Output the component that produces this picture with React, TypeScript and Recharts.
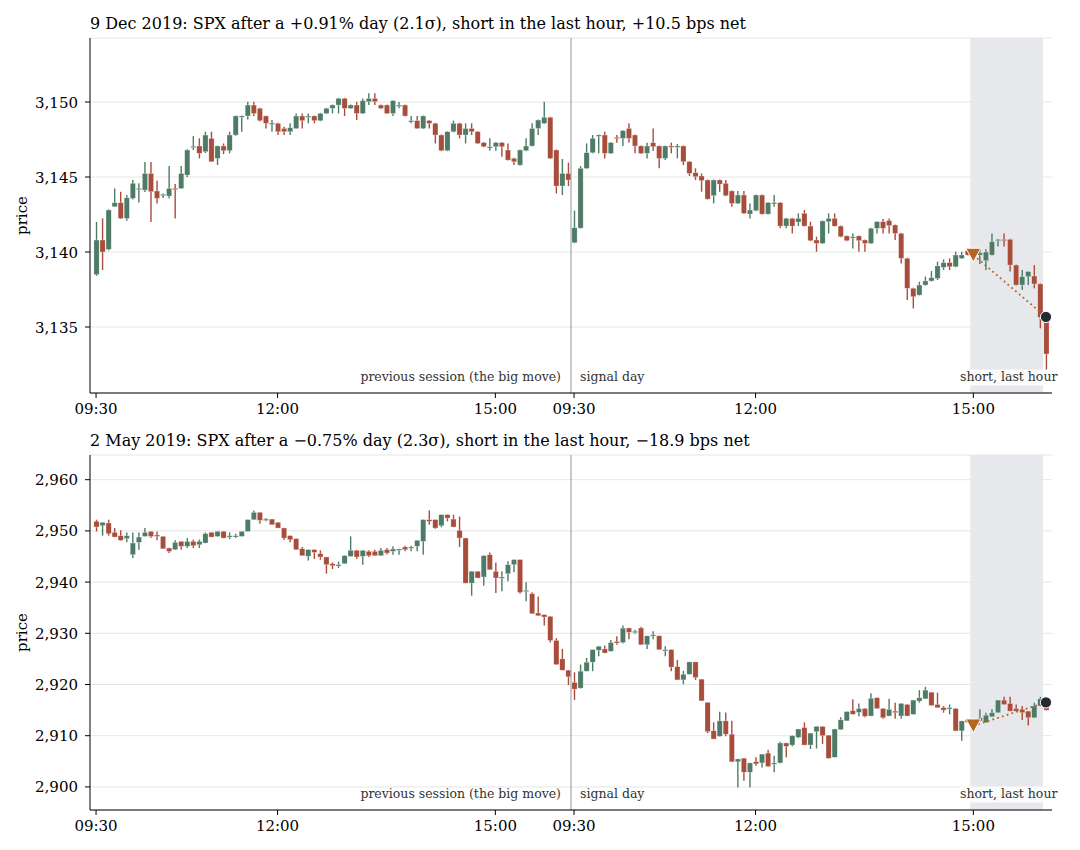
import {
  ComposedChart,
  Bar,
  Scatter,
  XAxis,
  YAxis,
  CartesianGrid,
  ReferenceArea,
  ReferenceLine,
} from "recharts";

const SERIF = '"DejaVu Serif", serif';
const UP = "#4e7b66";
const DOWN = "#a84c3b";
const TRADE = "#b5651d";
const EXIT_DOT = "#25282c";

// 5-minute bars: previous session (0..78) and signal day (79..157)
const TICK_IDX = [0, 30, 66, 79, 109, 145];
const TICK_LABELS = ["09:30", "12:00", "15:00", "09:30", "12:00", "15:00"];
const TRADE_IDX = [145, 157];

// ---- 9 Dec 2019 ----
const DEC_OPEN = [
  3138.5, 3140.8, 3140.18, 3143.02, 3143.29, 3142.24, 3143.58, 3144.2, 3144.13, 3145.24,
  3144.07, 3143.8, 3143.73, 3144.25, 3144.24, 3145.13, 3147.0, 3147.07, 3146.69, 3147.58,
  3146.24, 3147.07, 3146.76, 3147.8, 3149.05, 3149.07, 3149.8, 3149.58, 3149.07, 3148.55,
  3148.58, 3148.24, 3148.02, 3148.24, 3149.07, 3149.0, 3149.07, 3148.76, 3149.24, 3149.58,
  3149.8, 3150.24, 3149.58, 3149.8, 3149.24, 3150.02, 3150.24, 3149.8, 3149.8, 3149.24,
  3149.78, 3149.8, 3148.74, 3148.76, 3148.24, 3148.76, 3148.58, 3147.8, 3146.76, 3148.02,
  3148.58, 3147.8, 3148.24, 3148.02, 3147.29, 3147.0, 3147.02, 3147.29, 3146.8, 3146.24,
  3145.8, 3146.76, 3147.07, 3148.24, 3148.58, 3148.98, 3146.8, 3144.4, 3145.24, 3140.62,
  3141.6, 3145.58, 3146.62, 3147.78, 3147.8, 3146.58, 3147.65, 3147.58, 3148.24, 3147.8,
  3147.07, 3146.58, 3147.29, 3147.07, 3146.24, 3147.07, 3147.05, 3147.07, 3146.02, 3145.29,
  3145.07, 3144.8, 3143.76, 3144.8, 3144.58, 3144.07, 3143.24, 3143.8, 3142.53, 3142.76,
  3143.8, 3142.53, 3143.25, 3143.29, 3141.73, 3142.24, 3142.0, 3142.58, 3141.73, 3140.8,
  3140.58, 3142.02, 3142.24, 3141.73, 3141.07, 3141.0, 3141.07, 3140.8, 3140.58, 3141.58,
  3142.02, 3142.1, 3141.8, 3141.24, 3139.58, 3137.58, 3137.13, 3137.8, 3138.07, 3138.24,
  3138.98, 3139.29, 3139.02, 3139.58, 3140.09, 3139.85, 3139.8, 3139.42, 3139.8, 3140.82,
  3140.84, 3140.84, 3139.13, 3137.8, 3138.36, 3138.4, 3137.87, 3135.36,
];
const DEC_HIGH = [
  3142.0, 3142.24, 3142.85, 3144.24, 3144.02, 3143.8, 3144.8, 3144.58, 3146.0, 3146.0,
  3144.76, 3143.9, 3145.73, 3144.53, 3145.73, 3146.85, 3147.73, 3147.58, 3148.02, 3148.02,
  3147.1, 3147.24, 3148.02, 3149.1, 3149.1, 3150.02, 3150.02, 3149.62, 3149.1, 3148.8,
  3148.62, 3148.36, 3148.58, 3149.24, 3149.24, 3149.24, 3149.1, 3149.28, 3149.62, 3149.84,
  3150.28, 3150.28, 3149.84, 3150.02, 3150.24, 3150.58, 3150.58, 3149.84, 3149.84, 3150.12,
  3150.0, 3149.84, 3149.07, 3149.07, 3149.1, 3148.8, 3148.62, 3147.84, 3148.05, 3148.76,
  3148.62, 3148.58, 3148.58, 3148.06, 3147.33, 3147.58, 3147.33, 3147.33, 3147.24, 3146.28,
  3146.84, 3147.58, 3148.58, 3148.84, 3150.02, 3149.02, 3146.84, 3146.2, 3145.96, 3142.76,
  3145.73, 3147.24, 3147.8, 3147.84, 3148.02, 3147.33, 3147.8, 3148.12, 3148.58, 3147.84,
  3147.1, 3147.29, 3148.24, 3147.1, 3147.1, 3147.29, 3147.2, 3147.1, 3146.06, 3145.58,
  3145.24, 3144.84, 3144.84, 3144.84, 3144.8, 3144.1, 3144.07, 3144.07, 3143.24, 3143.84,
  3143.84, 3143.33, 3143.8, 3143.33, 3142.28, 3142.28, 3142.58, 3142.8, 3142.02, 3141.02,
  3142.1, 3142.58, 3142.58, 3141.77, 3141.1, 3141.24, 3141.1, 3140.84, 3141.62, 3142.05,
  3142.2, 3142.24, 3141.84, 3141.28, 3139.62, 3137.62, 3138.02, 3138.36, 3138.73, 3139.36,
  3139.51, 3139.58, 3140.02, 3140.02, 3140.24, 3140.1, 3140.2, 3140.18, 3141.24, 3140.86,
  3141.24, 3140.88, 3139.17, 3138.8, 3138.72, 3139.13, 3137.91, 3135.7,
];
const DEC_LOW = [
  3138.4, 3138.8, 3140.1, 3143.0, 3142.2, 3142.09, 3143.5, 3143.3, 3144.0, 3142.0,
  3143.24, 3143.6, 3143.58, 3142.24, 3144.2, 3145.0, 3146.8, 3146.24, 3146.6, 3146.0,
  3145.8, 3146.53, 3146.58, 3147.75, 3148.02, 3148.84, 3149.07, 3148.7, 3148.24, 3148.02,
  3147.8, 3147.8, 3147.8, 3148.2, 3148.24, 3148.58, 3148.58, 3148.72, 3149.2, 3149.24,
  3149.24, 3149.07, 3149.54, 3148.8, 3149.2, 3149.8, 3149.8, 3149.54, 3149.2, 3149.07,
  3149.58, 3149.03, 3148.58, 3148.2, 3148.2, 3148.24, 3147.24, 3146.72, 3146.72, 3147.98,
  3147.58, 3147.24, 3147.8, 3147.2, 3146.98, 3146.76, 3146.76, 3146.36, 3146.1, 3145.8,
  3145.76, 3146.72, 3147.03, 3147.8, 3148.54, 3146.2, 3143.9, 3143.8, 3144.4, 3140.58,
  3141.56, 3145.54, 3146.58, 3146.58, 3146.24, 3146.54, 3147.29, 3147.07, 3147.29, 3146.58,
  3146.54, 3146.24, 3146.76, 3145.58, 3146.13, 3146.58, 3146.24, 3145.8, 3145.07, 3144.8,
  3144.02, 3143.5, 3143.24, 3144.02, 3143.72, 3143.02, 3143.2, 3142.54, 3142.24, 3142.72,
  3142.5, 3142.5, 3143.02, 3141.58, 3141.58, 3141.24, 3141.73, 3141.7, 3140.72, 3140.02,
  3140.54, 3141.24, 3141.7, 3140.98, 3140.72, 3140.24, 3140.02, 3140.02, 3140.54, 3141.24,
  3141.24, 3141.24, 3140.8, 3139.24, 3136.8, 3136.24, 3137.1, 3137.76, 3138.03, 3138.13,
  3138.8, 3138.8, 3138.98, 3139.54, 3139.76, 3139.6, 3139.2, 3138.8, 3139.76, 3140.36,
  3140.36, 3138.7, 3137.76, 3137.47, 3137.8, 3137.58, 3134.91, 3132.16,
];
const DEC_CLOSE = [
  3140.8, 3140.0, 3142.8, 3143.29, 3142.24, 3143.62, 3144.58, 3144.25, 3145.24, 3144.02,
  3143.58, 3143.85, 3144.24, 3144.2, 3145.24, 3146.8, 3147.05, 3146.58, 3147.8, 3146.02,
  3147.07, 3146.76, 3147.8, 3149.07, 3149.07, 3149.8, 3149.24, 3148.76, 3148.58, 3148.6,
  3148.02, 3148.02, 3148.29, 3149.07, 3148.76, 3149.07, 3148.76, 3149.24, 3149.58, 3149.8,
  3150.24, 3149.58, 3149.8, 3149.24, 3150.09, 3150.24, 3150.02, 3149.58, 3149.24, 3150.09,
  3149.8, 3149.07, 3148.76, 3148.24, 3149.07, 3148.58, 3147.8, 3146.76, 3148.02, 3148.58,
  3147.8, 3148.24, 3148.02, 3147.24, 3147.02, 3147.02, 3147.29, 3147.02, 3146.13, 3146.02,
  3146.8, 3147.07, 3148.24, 3148.8, 3148.98, 3146.24, 3144.4, 3145.24, 3144.8, 3141.62,
  3145.58, 3146.62, 3147.58, 3147.8, 3146.58, 3147.29, 3147.6, 3148.09, 3147.58, 3147.07,
  3146.58, 3147.07, 3147.02, 3146.24, 3147.07, 3147.02, 3147.07, 3146.02, 3145.24, 3145.02,
  3144.76, 3143.53, 3144.8, 3144.53, 3143.76, 3143.24, 3143.8, 3142.58, 3142.8, 3143.8,
  3142.53, 3143.29, 3143.29, 3141.73, 3142.24, 3141.73, 3142.24, 3141.73, 3140.76, 3140.58,
  3142.07, 3142.24, 3141.73, 3141.02, 3140.76, 3141.02, 3140.76, 3140.58, 3141.58, 3142.02,
  3141.58, 3141.76, 3141.24, 3139.58, 3137.58, 3137.02, 3137.8, 3138.07, 3138.29, 3139.07,
  3139.29, 3139.02, 3139.8, 3139.8, 3139.8, 3139.9, 3139.95, 3140.0, 3140.69, 3140.84,
  3140.8, 3139.13, 3137.8, 3138.36, 3138.69, 3137.87, 3135.64, 3133.2,
];
const DEC_TRADE_PRICE = [3139.8, 3135.67];
const DEC_Y_TICKS = [3135, 3140, 3145, 3150];
const DEC_Y_DOMAIN = [3130.6, 3154.27];

// ---- 2 May 2019 ----
const MAY_OPEN = [
  2951.86, 2951.02, 2951.54, 2949.71, 2949.06, 2948.5, 2945.35, 2947.76, 2948.93, 2949.9,
  2949.2, 2948.93, 2946.65, 2946.33, 2947.95, 2946.98, 2947.95, 2947.3, 2947.63, 2949.71,
  2948.93, 2949.9, 2949.0, 2949.0, 2948.93, 2949.9, 2952.19, 2953.62, 2952.28, 2952.3,
  2951.67, 2950.56, 2949.06, 2948.47, 2946.52, 2945.03, 2946.33, 2945.55, 2944.9, 2943.6,
  2943.35, 2943.6, 2945.03, 2946.2, 2945.03, 2946.0, 2946.0, 2945.16, 2946.33, 2946.0,
  2946.44, 2946.85, 2946.8, 2947.0, 2947.95, 2952.19, 2952.19, 2951.0, 2953.16, 2952.3,
  2950.1, 2948.6, 2939.8, 2942.1, 2941.0, 2945.35, 2942.1, 2940.95, 2941.64, 2943.4,
  2944.38, 2938.2, 2937.73, 2933.96, 2933.63, 2933.3, 2928.6, 2925.0, 2922.8, 2920.4,
  2919.3, 2922.6, 2924.35, 2926.7, 2926.95, 2926.5, 2928.4, 2928.2, 2931.03, 2930.35,
  2931.03, 2927.77, 2929.65, 2929.5, 2926.75, 2926.8, 2923.5, 2920.9, 2922.0, 2924.4,
  2921.04, 2916.5, 2910.97, 2909.9, 2912.9, 2910.3, 2904.9, 2905.6, 2902.86, 2904.94,
  2904.68, 2906.6, 2904.5, 2904.68, 2908.57, 2908.18, 2909.7, 2911.6, 2908.18, 2910.8,
  2911.8, 2910.1, 2905.8, 2911.2, 2912.9, 2914.9, 2914.55, 2915.3, 2913.85, 2917.4,
  2915.3, 2913.85, 2914.8, 2913.85, 2916.1, 2914.17, 2916.76, 2917.2, 2918.5, 2916.1,
  2915.47, 2915.4, 2915.3, 2910.94, 2913.2, 2912.5, 2912.88, 2912.56, 2913.7, 2914.5,
  2916.95, 2916.3, 2915.3, 2915.15, 2914.8, 2913.5, 2915.8, 2916.6,
];
const MAY_HIGH = [
  2952.19, 2951.7, 2952.19, 2950.56, 2950.1, 2949.7, 2949.7, 2949.7, 2950.56, 2949.94,
  2949.9, 2948.97, 2946.69, 2948.15, 2947.99, 2948.6, 2948.3, 2948.3, 2949.71, 2949.75,
  2949.94, 2949.94, 2949.71, 2949.45, 2949.94, 2952.23, 2954.0, 2953.66, 2952.5, 2952.34,
  2951.71, 2950.6, 2949.1, 2948.51, 2946.85, 2946.37, 2946.37, 2946.2, 2944.94, 2943.85,
  2944.0, 2945.2, 2948.93, 2946.24, 2946.24, 2946.2, 2946.33, 2946.65, 2946.65, 2946.98,
  2946.5, 2947.1, 2947.1, 2948.19, 2952.23, 2954.0, 2952.23, 2953.2, 2953.2, 2953.16,
  2952.8, 2948.64, 2942.14, 2942.14, 2945.2, 2945.8, 2943.85, 2942.1, 2944.05, 2944.42,
  2944.42, 2939.95, 2938.0, 2937.21, 2933.67, 2933.34, 2929.04, 2926.95, 2922.84, 2922.4,
  2923.9, 2925.2, 2926.84, 2927.5, 2927.6, 2928.7, 2929.4, 2931.5, 2931.07, 2930.7,
  2931.3, 2929.54, 2930.4, 2929.54, 2927.47, 2926.84, 2924.8, 2922.66, 2924.44, 2924.44,
  2921.08, 2916.54, 2912.6, 2914.7, 2914.55, 2912.9, 2905.49, 2905.64, 2904.72, 2905.8,
  2906.44, 2907.27, 2906.1, 2908.83, 2908.61, 2910.04, 2911.34, 2912.6, 2910.54, 2911.84,
  2911.84, 2910.14, 2911.34, 2913.6, 2914.74, 2917.1, 2916.3, 2915.34, 2918.3, 2917.44,
  2915.34, 2917.2, 2916.44, 2916.34, 2916.14, 2916.99, 2918.9, 2919.55, 2918.54, 2918.4,
  2915.8, 2916.1, 2915.34, 2912.92, 2913.3, 2912.9, 2915.15, 2914.5, 2915.15, 2916.99,
  2917.6, 2917.6, 2916.1, 2915.8, 2914.84, 2916.44, 2917.6, 2916.9,
];
const MAY_LOW = [
  2949.9, 2949.06, 2949.06, 2948.76, 2948.1, 2947.76, 2944.7, 2946.33, 2948.9, 2948.6,
  2948.15, 2946.48, 2945.68, 2946.29, 2946.33, 2946.65, 2946.65, 2946.65, 2947.59, 2948.76,
  2948.89, 2948.56, 2948.4, 2948.6, 2948.89, 2949.86, 2952.15, 2951.4, 2951.86, 2951.16,
  2950.52, 2948.2, 2947.76, 2946.29, 2945.12, 2944.24, 2944.5, 2944.37, 2941.64, 2942.55,
  2942.75, 2943.56, 2944.99, 2944.5, 2943.4, 2944.9, 2945.12, 2945.12, 2945.4, 2945.35,
  2945.35, 2946.0, 2946.0, 2946.0, 2945.35, 2951.2, 2950.4, 2950.7, 2951.86, 2950.72,
  2946.85, 2939.76, 2937.34, 2940.76, 2939.3, 2942.38, 2937.86, 2938.2, 2940.14, 2941.9,
  2937.73, 2936.24, 2933.79, 2933.4, 2931.5, 2928.2, 2923.86, 2922.76, 2919.9, 2917.0,
  2919.2, 2922.56, 2922.6, 2925.5, 2926.11, 2926.46, 2927.77, 2928.0, 2928.85, 2929.9,
  2927.73, 2926.95, 2928.85, 2926.76, 2925.5, 2922.6, 2920.86, 2920.06, 2921.96, 2920.9,
  2916.76, 2910.5, 2909.31, 2909.86, 2909.9, 2904.86, 2899.9, 2901.2, 2899.9, 2904.15,
  2903.8, 2903.96, 2902.86, 2904.64, 2905.8, 2907.92, 2909.48, 2908.14, 2907.4, 2907.5,
  2908.4, 2905.56, 2905.76, 2911.16, 2912.86, 2914.16, 2913.8, 2913.6, 2913.81, 2915.26,
  2913.3, 2913.81, 2913.33, 2913.33, 2913.81, 2914.13, 2916.44, 2917.16, 2915.86, 2915.43,
  2914.5, 2914.17, 2910.9, 2909.0, 2912.5, 2912.0, 2912.84, 2912.52, 2913.66, 2914.46,
  2916.06, 2914.76, 2914.76, 2913.07, 2912.0, 2913.46, 2915.76, 2914.9,
];
const MAY_CLOSE = [
  2950.76, 2951.67, 2949.45, 2948.8, 2948.15, 2949.06, 2947.63, 2948.8, 2949.71, 2948.93,
  2948.93, 2946.52, 2946.0, 2947.76, 2946.98, 2947.95, 2947.1, 2947.95, 2949.45, 2948.8,
  2949.9, 2948.6, 2949.06, 2949.06, 2949.9, 2952.19, 2953.62, 2952.06, 2952.3, 2951.2,
  2950.56, 2948.6, 2948.28, 2946.33, 2945.16, 2946.33, 2945.8, 2944.9, 2943.4, 2943.2,
  2943.4, 2945.16, 2946.2, 2944.9, 2946.2, 2945.16, 2945.16, 2946.2, 2945.68, 2946.46,
  2946.46, 2946.33, 2946.85, 2948.15, 2952.19, 2951.86, 2950.56, 2953.16, 2952.5, 2950.76,
  2948.6, 2939.8, 2942.1, 2940.8, 2945.16, 2942.42, 2940.8, 2941.0, 2943.4, 2944.38,
  2938.0, 2938.4, 2933.83, 2933.44, 2933.18, 2928.6, 2923.9, 2922.8, 2921.5, 2919.1,
  2922.6, 2924.35, 2926.8, 2927.47, 2926.15, 2928.2, 2928.1, 2931.0, 2930.2, 2930.4,
  2927.77, 2929.5, 2929.7, 2926.8, 2926.8, 2923.4, 2920.9, 2922.0, 2924.4, 2921.36,
  2916.8, 2910.8, 2909.35, 2912.9, 2910.3, 2904.9, 2905.45, 2902.86, 2904.68, 2904.5,
  2906.4, 2904.0, 2904.68, 2908.57, 2907.92, 2910.0, 2911.3, 2908.18, 2910.5, 2911.8,
  2910.0, 2905.6, 2911.3, 2913.1, 2914.7, 2914.2, 2915.3, 2913.8, 2917.3, 2915.3,
  2913.5, 2915.15, 2914.5, 2916.3, 2913.85, 2916.95, 2917.4, 2918.9, 2915.9, 2915.47,
  2915.0, 2915.47, 2910.94, 2912.88, 2912.6, 2912.55, 2913.5, 2914.0, 2914.5, 2916.95,
  2916.1, 2914.8, 2914.8, 2914.5, 2913.5, 2915.8, 2917.2, 2915.0,
];
const MAY_TRADE_PRICE = [2911.95, 2916.5];
const MAY_Y_TICKS = [2900, 2910, 2920, 2930, 2940, 2950, 2960];
const MAY_Y_DOMAIN = [2895.49, 2964.82];

function buildRows(o: number[], h: number[], l: number[], c: number[]) {
  return o.map((v, i) => ({ i, o: v, h: h[i], l: l[i], c: c[i] }));
}

function buildTrade(prices: number[]) {
  return prices.map((p, k) => ({ i: TRADE_IDX[k], p, kind: k === 0 ? "entry" : "exit" }));
}

function Candle(props: any) {
  const { x, y, width, height, payload } = props;
  if (!payload || !Number.isFinite(y) || !Number.isFinite(height)) return null;
  const { o, h, l, c } = payload;
  const cx = x + width / 2;
  const span = h - l || 1;
  const py = (v: number) => y + ((h - v) / span) * height;
  const top = py(Math.max(o, c));
  const bot = py(Math.min(o, c));
  const color = c >= o ? UP : DOWN;
  const bw = 5.2;
  return (
    <g>
      <line x1={cx} x2={cx} y1={y} y2={y + height} stroke={color} strokeWidth={1.4} />
      <rect
        x={cx - bw / 2}
        y={top}
        width={bw}
        height={Math.max(bot - top, 1.3)}
        fill={color}
        stroke="#fff"
        strokeOpacity={0.55}
        strokeWidth={0.5}
      />
    </g>
  );
}

function TradeMark(props: any) {
  const { cx, cy, payload } = props;
  if (!Number.isFinite(cx) || !Number.isFinite(cy)) return null;
  if (payload.kind === "entry") {
    return (
      <path
        d={`M${cx - 7.5},${cy - 6.8} L${cx + 7.5},${cy - 6.8} L${cx},${cy + 7} Z`}
        fill={TRADE}
        stroke="#fff"
        strokeWidth={1}
      />
    );
  }
  return <circle cx={cx} cy={cy} r={5.6} fill={EXIT_DOT} stroke="#fff" strokeWidth={1} />;
}

const annoStyle = { fontFamily: SERIF, fontSize: 12.5, fill: "#333" };

function SessionLabels(props: any) {
  const vb = props.viewBox;
  if (!vb) return null;
  const base = vb.y + vb.height - 12;
  return (
    <g>
      <text x={vb.x - 10} y={base} textAnchor="end" style={annoStyle}>
        previous session (the big move)
      </text>
      <text x={vb.x + 9} y={base} textAnchor="start" style={annoStyle}>
        signal day
      </text>
    </g>
  );
}

function LastHourLabel(props: any) {
  const vb = props.viewBox;
  if (!vb) return null;
  const right = vb.x + vb.width + 14.5;
  const base = vb.y + vb.height - 12;
  return (
    <g>
      <rect x={right - 98} y={base - 11.5} width={100} height={16} fill="#fff" fillOpacity={0.8} />
      <text x={right} y={base} textAnchor="end" style={annoStyle}>
        short, last hour
      </text>
    </g>
  );
}

function PriceLabel(props: any) {
  const vb = props.viewBox;
  if (!vb) return null;
  const x = vb.x + 27;
  const y = vb.y + vb.height / 2;
  return (
    <text
      x={x}
      y={y}
      transform={`rotate(-90 ${x} ${y})`}
      textAnchor="middle"
      style={{ fontFamily: SERIF, fontSize: 15, fill: "#000" }}
    >
      price
    </text>
  );
}

const TICK_FONT = { fontFamily: SERIF, fontSize: 15, fill: "#000" };

function XTick(props: any) {
  const { x, y, payload } = props;
  const k = TICK_IDX.indexOf(payload.value);
  return (
    <text x={x} y={y} dy={10.8} textAnchor="middle" style={TICK_FONT}>
      {k >= 0 ? TICK_LABELS[k] : ""}
    </text>
  );
}

function YTick(props: any) {
  const { x, y, payload } = props;
  return (
    <text x={x} y={y} dy={5.5} textAnchor="end" style={TICK_FONT}>
      {Number(payload.value).toLocaleString("en-US")}
    </text>
  );
}

function Panel({
  top,
  title,
  rows,
  trade,
  yTicks,
  yDomain,
}: {
  top: number;
  title: string;
  rows: any[];
  trade: any[];
  yTicks: number[];
  yDomain: number[];
}) {
  return (
    <div style={{ position: "absolute", left: 0, top, width: 1080, height: 418 }}>
      <ComposedChart
        width={1080}
        height={418}
        data={rows}
        margin={{ top: 38, right: 28, bottom: 0, left: 0 }}
      >
        <CartesianGrid vertical={false} stroke="#e6e6e6" strokeWidth={1} />
        <ReferenceArea
          x1={144.5}
          x2={156.5}
          fill="#e7e8ec"
          fillOpacity={1}
          strokeOpacity={0}
          label={LastHourLabel}
        />
        <ReferenceLine x={78.5} stroke="#a9adb2" strokeWidth={1.3} label={SessionLabels} />
        <XAxis
          dataKey="i"
          type="number"
          domain={[-1, 158]}
          allowDataOverflow
          ticks={TICK_IDX}
          interval={0}
          tick={XTick}
          tickSize={5}
          tickMargin={5}
          height={25}
          axisLine={{ stroke: "#000", strokeWidth: 1 }}
          tickLine={{ stroke: "#000", strokeWidth: 1 }}
        />
        <YAxis
          type="number"
          domain={yDomain}
          allowDataOverflow
          ticks={yTicks}
          interval={0}
          width={90}
          tick={YTick}
          tickSize={5}
          tickMargin={7}
          axisLine={{ stroke: "#000", strokeWidth: 1 }}
          tickLine={{ stroke: "#000", strokeWidth: 1 }}
          label={PriceLabel}
        />
        <Bar
          dataKey={(d: any) => [d.l, d.h]}
          shape={Candle}
          barSize={5}
          isAnimationActive={false}
        />
        <Scatter
          data={trade}
          dataKey="p"
          shape={TradeMark}
          line={{ stroke: TRADE, strokeWidth: 1.8, strokeDasharray: "1.8 3.2" }}
          isAnimationActive={false}
        />
      </ComposedChart>
      <div
        style={{
          position: "absolute",
          left: 90,
          top: 15.5,
          fontFamily: SERIF,
          fontSize: 16,
          lineHeight: "16px",
          whiteSpace: "nowrap",
          color: "#000",
        }}
      >
        {title}
      </div>
    </div>
  );
}

export default function App() {
  const decRows = buildRows(DEC_OPEN, DEC_HIGH, DEC_LOW, DEC_CLOSE);
  const mayRows = buildRows(MAY_OPEN, MAY_HIGH, MAY_LOW, MAY_CLOSE);
  return (
    <div
      style={{
        position: "absolute",
        left: 0,
        top: 0,
        width: 1080,
        height: 850,
        background: "#fff",
        overflow: "hidden",
      }}
    >
      <Panel
        top={0}
        title="9 Dec 2019: SPX after a +0.91% day (2.1σ), short in the last hour, +10.5 bps net"
        rows={decRows}
        trade={buildTrade(DEC_TRADE_PRICE)}
        yTicks={DEC_Y_TICKS}
        yDomain={DEC_Y_DOMAIN}
      />
      <Panel
        top={417}
        title="2 May 2019: SPX after a −0.75% day (2.3σ), short in the last hour, −18.9 bps net"
        rows={mayRows}
        trade={buildTrade(MAY_TRADE_PRICE)}
        yTicks={MAY_Y_TICKS}
        yDomain={MAY_Y_DOMAIN}
      />
    </div>
  );
}
